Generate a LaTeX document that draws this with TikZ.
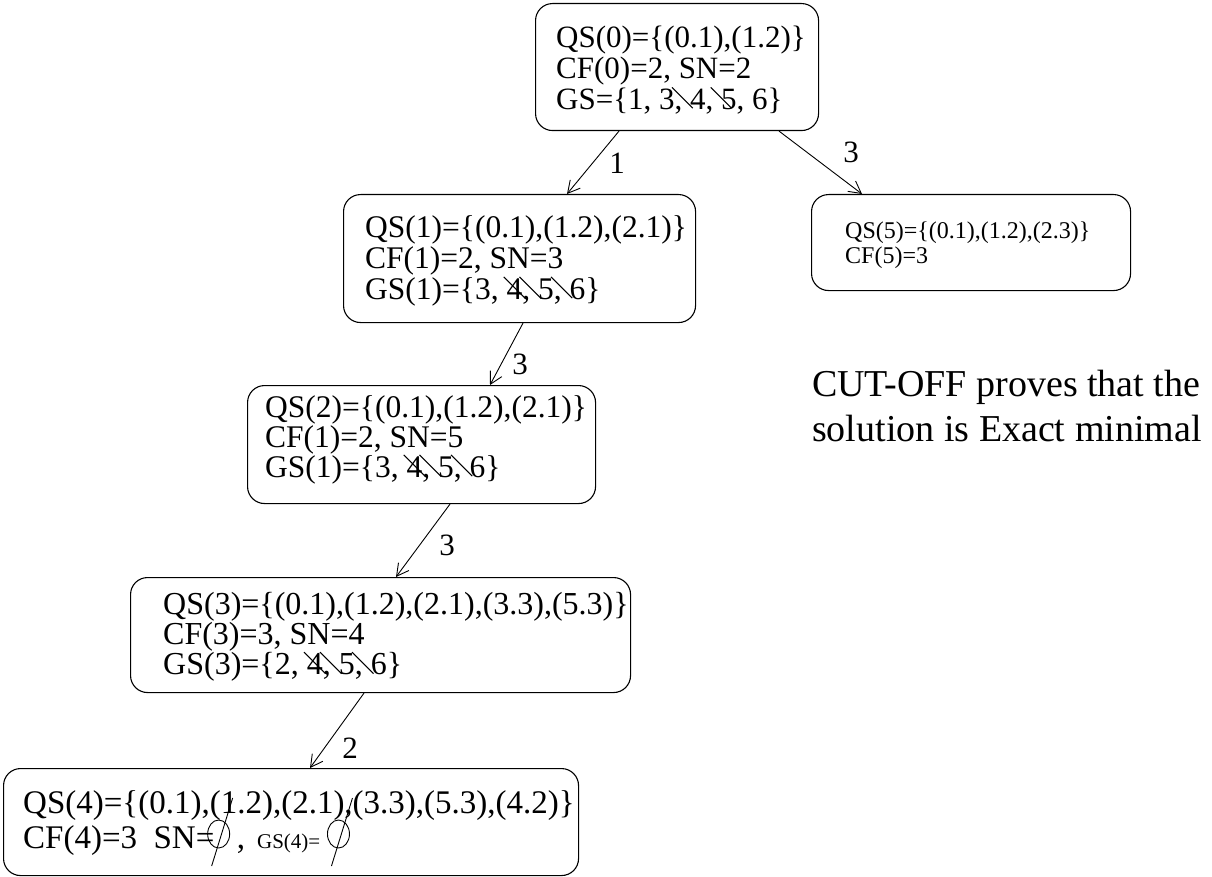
\documentclass[tikz,border=0pt]{standalone}
\usepackage{fontspec}
\setmainfont{Liberation Serif}
\usetikzlibrary{arrows.meta}
% thin diagonal stroke laid over a digit; the optional argument moves its start
\newcommand\strk[2][-0.6em]{\makebox[0pt][l]{\hspace{#1}\raisebox{0.7em}{\rotatebox{-45}{\rule{0.95em}{0.032em}}}}#2}

\begin{document}
\begin{tikzpicture}[x=1pt,y=-1pt,
  box/.style={draw,line width=1.1pt,rounded corners=17pt,anchor=north west,inner sep=0pt},
  txt/.style={anchor=north west,inner sep=0pt,align=left},
  oneline/.style={anchor=base west,inner sep=0pt},
  lbl/.style={inner sep=0pt,font=\fontsize{31}{31}\selectfont},
  link/.style={line width=0.9pt,-{Straight Barb[length=12pt,width=13pt,line width=0.9pt]}},
  nullmark/.style={line width=0.9pt}]
\useasboundingbox (0,0) rectangle (1212,877);

% boxes
\node[box,minimum width=283pt,minimum height=127pt] (b0) at (535,3) {};
\node[box,minimum width=352pt,minimum height=128pt] (b1) at (343,194) {};
\node[box,minimum width=319pt,minimum height=96pt]  (b5) at (811,194) {};
\node[box,minimum width=348pt,minimum height=118pt] (b2) at (247,385) {};
\node[box,minimum width=500pt,minimum height=115pt] (b3) at (130,577) {};
\node[box,minimum width=575pt,minimum height=107pt] (b4) at (3,768) {};

% box contents
\node[txt,font=\fontsize{31}{31}\selectfont] (t0) at ([xshift=21pt,yshift=-22.7pt]b0.north west)
  {QS(0)=\{(0.1),(1.2)\}\\CF(0)=2, SN=2\\GS=\{1, 3, \strk{4}, \strk[-0.35em]{5}, 6\}};
\node[txt,font=\fontsize{31.5}{31}\selectfont] (t1) at ([xshift=22pt,yshift=-21.3pt]b1.north west)
  {QS(1)=\{(0.1),(1.2),(2.1)\}\\CF(1)=2, SN=3\\GS(1)=\{3, \strk[-0.1em]{4}, \strk{5}, \strk{6}\}};
\node[txt,font=\fontsize{24}{25}\selectfont] (t5) at ([xshift=34pt,yshift=-27.7pt]b5.north west)
  {QS(5)=\{(0.1),(1.2),(2.3)\}\\CF(5)=3};
\node[txt,font=\fontsize{31.5}{30}\selectfont] (t2) at ([xshift=18pt,yshift=-10.3pt]b2.north west)
  {QS(2)=\{(0.1),(1.2),(2.1)\}\\CF(1)=2, SN=5\\GS(1)=\{3, \strk[-0.1em]{4}, \strk{5}, \strk{6}\}};
\node[txt,font=\fontsize{32}{30}\selectfont] (t3) at ([xshift=33pt,yshift=-15.5pt]b3.north west)
  {QS(3)=\{(0.1),(1.2),(2.1),(3.3),(5.3)\}\\CF(3)=3, SN=4\\GS(3)=\{2, \strk[-0.1em]{4}, \strk{5}, \strk{6}\}};

% last box: two lines with empty-set marks
\node[oneline,font=\fontsize{33}{33}\selectfont] (q4) at ([xshift=20pt,yshift=-45pt]b4.north west)
  {QS(4)=\{(0.1),(1.2),(2.1),(3.3),(5.3),(4.2)\}};
\node[oneline,font=\fontsize{33}{33}\selectfont] (c4) at ([xshift=20pt,yshift=-80pt]b4.north west)
  {CF(4)=3\ \ SN=};
\coordinate (e1) at ([xshift=4pt,yshift=14pt]c4.base east);
\draw[nullmark] (e1) ellipse [x radius=11pt,y radius=14pt];
\draw[nullmark] ([xshift=-7pt,yshift=-32pt]e1) -- ([xshift=14pt,yshift=36pt]e1);
\node[oneline,font=\fontsize{33}{33}\selectfont] (g4) at ([xshift=22pt]c4.base east)
  {,\hspace{12pt}{\fontsize{21}{21}\selectfont GS(4)=}};
\coordinate (e2) at ([xshift=18pt,yshift=14pt]g4.base east);
\draw[nullmark] (e2) ellipse [x radius=11pt,y radius=14pt];
\draw[nullmark] ([xshift=-7pt,yshift=-32pt]e2) -- ([xshift=14pt,yshift=36pt]e2);

% side note
\node[oneline,font=\fontsize{38}{38}\selectfont] (cut1) at (812,396) {CUT-OFF proves that the};
\node[oneline,font=\fontsize{38}{38}\selectfont] (cut2) at ([yshift=-45pt]cut1.base west) {solution is Exact minimal};

% branches
\draw[link] ([xshift=84pt]b0.south west) -- ([xshift=224pt]b1.north west);
\draw[link] ([xshift=244pt]b0.south west) -- ([xshift=51pt]b5.north west);
\draw[link] ([xshift=180pt]b1.south west) -- ([xshift=243pt]b2.north west);
\draw[link] ([xshift=203pt]b2.south west) -- ([xshift=266pt]b3.north west);
\draw[link] ([xshift=234pt]b3.south west) -- ([xshift=307pt]b4.north west);

% branch labels
\node[lbl] (l1) at (617,163) {1};
\node[lbl] (l2) at (851,152) {3};
\node[lbl] (l3) at (520,364) {3};
\node[lbl] (l4) at (447,545) {3};
\node[lbl] (l5) at (350,748) {2};
\end{tikzpicture}
\end{document}
